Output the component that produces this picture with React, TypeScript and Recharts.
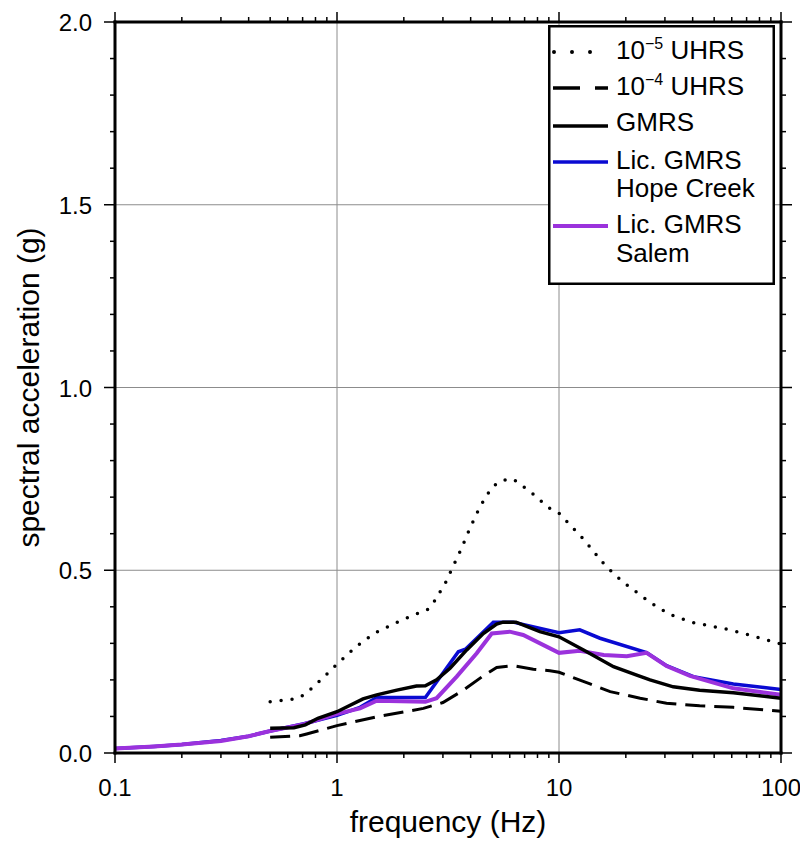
import React from "react";
import { LineChart, Line, XAxis, YAxis, ReferenceLine, Legend } from "recharts";

// ---- data ----
const uhrs5Freq = [0.5, 0.65, 0.72, 0.86, 1.0, 1.22, 1.47, 1.84, 2.28, 2.54, 2.76, 3.1, 3.27, 3.62, 3.97, 4.41, 4.98, 5.5, 6.2, 7.5, 9.0, 10, 12.9, 16.2, 19.4, 25.9, 31.6, 40, 57, 72, 100];
const uhrs5Sa = [0.14, 0.148, 0.161, 0.204, 0.243, 0.291, 0.327, 0.356, 0.381, 0.39, 0.417, 0.469, 0.5, 0.557, 0.615, 0.674, 0.727, 0.745, 0.75, 0.713, 0.671, 0.656, 0.585, 0.512, 0.468, 0.411, 0.379, 0.357, 0.339, 0.323, 0.298];

const uhrs4Freq = [0.5, 0.68, 0.73, 1.0, 1.51, 2.45, 3.0, 3.71, 4.56, 5.24, 6.2, 7.66, 9.1, 10, 13.8, 17, 23.2, 30.5, 43, 61, 100];
const uhrs4Sa = [0.043, 0.047, 0.052, 0.075, 0.099, 0.122, 0.138, 0.172, 0.211, 0.234, 0.239, 0.229, 0.225, 0.221, 0.189, 0.168, 0.15, 0.136, 0.129, 0.125, 0.114];

const gmrsFreq = [0.5, 0.64, 0.72, 0.82, 1.0, 1.31, 1.51, 1.86, 2.28, 2.5, 2.81, 3.23, 3.84, 4.56, 5.24, 5.6, 6.4, 8.2, 10, 12.9, 17.6, 22.4, 25.7, 32.7, 43, 61, 100];
const gmrsSa = [0.068, 0.069, 0.077, 0.095, 0.113, 0.148, 0.159, 0.172, 0.183, 0.184, 0.2, 0.232, 0.282, 0.327, 0.353, 0.358, 0.358, 0.332, 0.318, 0.282, 0.236, 0.213, 0.2, 0.181, 0.172, 0.165, 0.15];

const hopeFreq = [0.1, 0.15, 0.2, 0.3, 0.4, 0.5, 0.71, 1.0, 1.27, 1.51, 2.5, 3.52, 3.79, 5.06, 6.22, 10, 12.4, 15.3, 24.8, 30.5, 40.3, 61, 100];
const hopeSa = [0.012, 0.018, 0.023, 0.034, 0.046, 0.06, 0.08, 0.103, 0.125, 0.152, 0.152, 0.277, 0.284, 0.358, 0.358, 0.329, 0.337, 0.314, 0.275, 0.239, 0.209, 0.189, 0.174];

const salemFreq = [0.1, 0.15, 0.2, 0.3, 0.4, 0.5, 0.71, 1.0, 1.27, 1.51, 2.5, 2.81, 3.46, 4.26, 4.98, 6.0, 6.9, 10, 12.4, 15.9, 20.2, 24.8, 30.5, 38.9, 61, 100];
const salemSa = [0.012, 0.018, 0.023, 0.033, 0.046, 0.06, 0.079, 0.107, 0.122, 0.143, 0.14, 0.15, 0.209, 0.273, 0.327, 0.332, 0.323, 0.274, 0.28, 0.268, 0.265, 0.274, 0.238, 0.211, 0.177, 0.159];

const xTicks = [0.1, 0.2, 0.3, 0.4, 0.5, 0.6, 0.7, 0.8, 0.9, 1, 2, 3, 4, 5, 6, 7, 8, 9, 10, 20, 30, 40, 50, 60, 70, 80, 90, 100];
const xMajor = [0.1, 1, 10, 100];
const xMajorLabels = ["0.1", "1", "10", "100"];
const yTicks = [0, 0.1, 0.2, 0.3, 0.4, 0.5, 0.6, 0.7, 0.8, 0.9, 1.0, 1.1, 1.2, 1.3, 1.4, 1.5, 1.6, 1.7, 1.8, 1.9, 2.0];
const yMajor = [0, 0.5, 1.0, 1.5, 2.0];
const yMajorLabels = ["0.0", "0.5", "1.0", "1.5", "2.0"];
const xGrid = [1, 10];
const yGrid = [0.5, 1.0, 1.5];

const zip = (fs: number[], vs: number[]) => fs.map((f, i) => ({ f, sa: vs[i] }));
const uhrs5Data = zip(uhrs5Freq, uhrs5Sa);
const uhrs4Data = zip(uhrs4Freq, uhrs4Sa);
const gmrsData = zip(gmrsFreq, gmrsSa);
const hopeData = zip(hopeFreq, hopeSa);
const salemData = zip(salemFreq, salemSa);

const FONT = "'Liberation Sans', Arial, Helvetica, sans-serif";
const BLUE = "#0a0ad2";
const PURPLE = "#9b32dc";

const idxOf = (arr: number[], v: number) => arr.findIndex((a) => Math.abs(a - v) < 1e-9);

const makeXTick = (orient: "bottom" | "top") => (props: any) => {
  const { x, y, payload } = props;
  const i = idxOf(xMajor, payload.value);
  const major = i >= 0;
  const len = major ? 10 : 5;
  const s = orient === "bottom" ? 1 : -1;
  return (
    <g>
      <line x1={x} x2={x} y1={y} y2={y + s * len} stroke="#000" strokeWidth={1.5} />
      {orient === "bottom" && major ? (
        <text x={x} y={y + 43} textAnchor="middle" fontSize={24} fontFamily={FONT} fill="#000">
          {xMajorLabels[i]}
        </text>
      ) : null}
    </g>
  );
};

const makeYTick = (orient: "left" | "right") => (props: any) => {
  const { x, y, payload } = props;
  const i = idxOf(yMajor, payload.value);
  const major = i >= 0;
  const len = major ? 11 : 5;
  const s = orient === "left" ? -1 : 1;
  return (
    <g>
      <line x1={x} x2={x + s * len} y1={y} y2={y} stroke="#000" strokeWidth={1.5} />
      {orient === "left" && major ? (
        <text x={x - 23} y={y + 9} textAnchor="end" fontSize={24} fontFamily={FONT} fill="#000">
          {yMajorLabels[i]}
        </text>
      ) : null}
    </g>
  );
};

const legendItems = [
  { kind: "dot", lineY: 27, lines: [["10", "−5", " UHRS"]], baseY: [33.5] },
  { kind: "dash", lineY: 63, lines: [["10", "−4", " UHRS"]], baseY: [70] },
  { kind: "gmrs", lineY: 101, lines: [["GMRS"]], baseY: [106] },
  { kind: "hope", lineY: 137, lines: [["Lic. GMRS"], ["Hope Creek"]], baseY: [143.5, 172] },
  { kind: "salem", lineY: 201, lines: [["Lic. GMRS"], ["Salem"]], baseY: [208, 236.5] },
];

const LegendBox = () => (
  <svg width={227} height={260} style={{ display: "block" }}>
    <rect x={1.25} y={1.25} width={224.5} height={257.5} fill="#fff" stroke="#000" strokeWidth={2.5} />
    {legendItems.map((it, k) => {
      let lineProps: any = { stroke: "#000", strokeWidth: 3.5 };
      if (it.kind === "dot") lineProps = { stroke: "#000", strokeWidth: 4, strokeDasharray: "0 18", strokeLinecap: "round" };
      if (it.kind === "dash") lineProps = { stroke: "#000", strokeWidth: 3.5, strokeDasharray: "27 15" };
      if (it.kind === "hope") lineProps = { stroke: BLUE, strokeWidth: 3.5 };
      if (it.kind === "salem") lineProps = { stroke: PURPLE, strokeWidth: 4 };
      return (
        <g key={k}>
          <line x1={it.kind === "dot" ? 6 : 5} x2={60} y1={it.lineY} y2={it.lineY} {...lineProps} />
          {it.lines.map((ln, j) => (
            <text key={j} x={68} y={it.baseY[j]} fontSize={26} fontFamily={FONT} fill="#000">
              {ln.length === 3 ? (
                <>
                  <tspan>{ln[0]}</tspan>
                  <tspan dy={-10} fontSize={16}>{ln[1]}</tspan>
                  <tspan dy={10}>{ln[2]}</tspan>
                </>
              ) : (
                ln[0]
              )}
            </text>
          ))}
        </g>
      );
    })}
  </svg>
);

const frameLine = { stroke: "#000", strokeWidth: 3, strokeLinecap: "square" as const };

export default function App() {
  return (
    <div style={{ fontFamily: FONT }}>
      <LineChart width={800} height={830} margin={{ top: 0, right: 0, bottom: 0, left: 0 }}>
        <XAxis
          xAxisId="b"
          dataKey="f"
          type="number"
          scale="log"
          domain={[0.1, 100]}
          allowDataOverflow
          ticks={xTicks}
          interval={0}
          tickSize={0}
          tickMargin={0}
          tickLine={false}
          tick={makeXTick("bottom")}
          height={85}
          axisLine={frameLine}
          orientation="bottom"
          label={{ value: "frequency (Hz)", position: "insideBottom", offset: 6, fontSize: 30, fill: "#000", fontFamily: FONT }}
        />
        <XAxis
          xAxisId="t"
          dataKey="f"
          type="number"
          scale="log"
          domain={[0.1, 100]}
          allowDataOverflow
          ticks={xTicks}
          interval={0}
          tickSize={0}
          tickMargin={0}
          tickLine={false}
          tick={makeXTick("top")}
          height={14}
          axisLine={frameLine}
          orientation="top"
        />
        <YAxis
          yAxisId="l"
          type="number"
          domain={[0, 2]}
          allowDataOverflow
          ticks={yTicks}
          interval={0}
          tickSize={0}
          tickMargin={0}
          tickLine={false}
          tick={makeYTick("left")}
          width={107}
          axisLine={frameLine}
          orientation="left"
          label={{
            value: "spectral acceleration (g)",
            angle: -90,
            position: "insideLeft",
            offset: 20,
            fontSize: 30,
            fill: "#000",
            fontFamily: FONT,
            style: { textAnchor: "middle" },
          }}
        />
        <YAxis
          yAxisId="r"
          type="number"
          domain={[0, 2]}
          allowDataOverflow
          ticks={yTicks}
          interval={0}
          tickSize={0}
          tickMargin={0}
          tickLine={false}
          tick={makeYTick("right")}
          width={27}
          axisLine={frameLine}
          orientation="right"
        />
        {xGrid.map((v) => (
          <ReferenceLine key={"gx" + v} xAxisId="b" yAxisId="l" x={v} stroke="#8c8c8c" strokeWidth={1} />
        ))}
        {yGrid.map((v) => (
          <ReferenceLine key={"gy" + v} xAxisId="b" yAxisId="l" y={v} stroke="#8c8c8c" strokeWidth={1} />
        ))}
        <Line xAxisId="b" yAxisId="l" data={hopeData} dataKey="sa" type="linear" stroke={BLUE} strokeWidth={3.5} dot={false} isAnimationActive={false} />
        <Line xAxisId="b" yAxisId="l" data={salemData} dataKey="sa" type="linear" stroke={PURPLE} strokeWidth={4} dot={false} isAnimationActive={false} />
        <Line xAxisId="b" yAxisId="l" data={uhrs4Data} dataKey="sa" type="linear" stroke="#000" strokeWidth={3} strokeDasharray="20 9" dot={false} isAnimationActive={false} />
        <Line xAxisId="b" yAxisId="l" data={uhrs5Data} dataKey="sa" type="linear" stroke="#000" strokeWidth={3.5} strokeDasharray="0 11" strokeLinecap="round" dot={false} isAnimationActive={false} />
        <Line xAxisId="b" yAxisId="l" data={gmrsData} dataKey="sa" type="linear" stroke="#000" strokeWidth={3.5} dot={false} isAnimationActive={false} />
        <Legend
          layout="vertical"
          verticalAlign="middle"
          align="center"
          wrapperStyle={{ left: 540, top: 17, width: 227, height: 260 }}
          content={() => <LegendBox />}
        />
      </LineChart>
    </div>
  );
}
